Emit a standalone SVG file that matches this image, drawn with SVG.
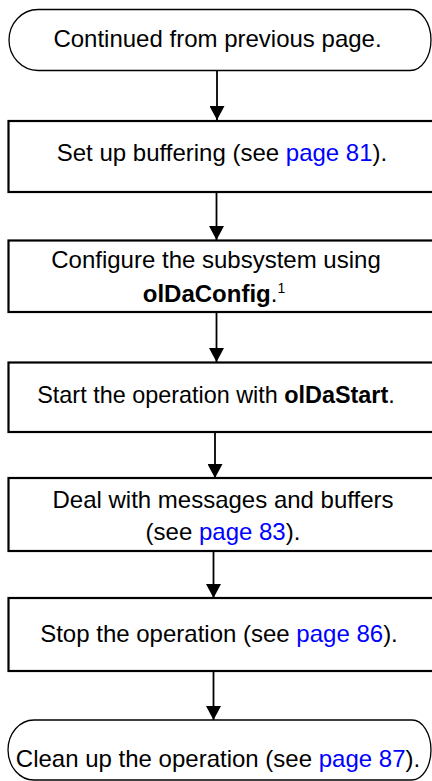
<svg xmlns="http://www.w3.org/2000/svg" width="432" height="781" viewBox="0 0 432 781">
<defs>
<style>
text{font-family:"Liberation Sans",Arial,Helvetica,sans-serif;font-size:24px;fill:#000;text-anchor:middle}
.b{font-weight:bold}
.lk{fill:#0000ff}
.sup{font-size:14px}
.term{fill:#fff;stroke:#000;stroke-width:1.3}
.box{fill:#fff;stroke:#000;stroke-width:2.2}
.conn{stroke:#000;stroke-width:1.8;fill:none}
</style>
<marker id="ah" viewBox="0 0 14 15" refX="14" refY="7.5" markerWidth="14" markerHeight="15" markerUnits="userSpaceOnUse" orient="auto"><path d="M0,0 L14,7.5 L0,15 Z" fill="#000"/></marker>
</defs>
<rect width="432" height="781" fill="#fff"/>
<g id="connectors">
<line class="conn" x1="217" y1="70.5" x2="217" y2="120" marker-end="url(#ah)"/>
<line class="conn" x1="216.5" y1="192" x2="216.5" y2="240" marker-end="url(#ah)"/>
<line class="conn" x1="216.5" y1="312" x2="216.5" y2="362" marker-end="url(#ah)"/>
<line class="conn" x1="215" y1="432" x2="215" y2="478" marker-end="url(#ah)"/>
<line class="conn" x1="213.5" y1="551" x2="213.5" y2="598" marker-end="url(#ah)"/>
<line class="conn" x1="213.5" y1="671" x2="213.5" y2="720" marker-end="url(#ah)"/>
</g>
<g id="n1">
<path class="term" d="M38,9.5 H410 A21,30.5 0 0 1 410,70.5 H38 A29,30.5 0 0 1 38,9.5 Z"/>
<text x="217.5" y="47">Continued from previous page.</text>
</g>
<g id="n2">
<rect class="box" x="8.5" y="121" width="432" height="71"/>
<text x="222" y="161">Set up buffering (see <tspan class="lk">page 81</tspan>).</text>
</g>
<g id="n3">
<rect class="box" x="8.5" y="240.5" width="432" height="71.5"/>
<text x="216" y="268">Configure the subsystem using</text>
<text x="214" y="302"><tspan class="b">olDaConfig</tspan>.<tspan class="sup" dy="-9">1</tspan></text>
</g>
<g id="n4">
<rect class="box" x="8.5" y="362.5" width="432" height="69.5"/>
<text x="216" y="403" style="font-size:23.4px">Start the operation with <tspan class="b">olDaStart</tspan>.</text>
</g>
<g id="n5">
<rect class="box" x="8.5" y="478" width="432" height="73"/>
<text x="223" y="508">Deal with messages and buffers</text>
<text x="223" y="540">(see <tspan class="lk">page 83</tspan>).</text>
</g>
<g id="n6">
<rect class="box" x="8.5" y="598" width="432" height="73"/>
<text x="219" y="642">Stop the operation (see <tspan class="lk">page 86</tspan>).</text>
</g>
<g id="n7">
<path class="term" d="M34,720 H412 A19,30 0 0 1 412,780 H34 A26,30 0 0 1 34,720 Z"/>
<text x="218" y="767">Clean up the operation (see <tspan class="lk">page 87</tspan>).</text>
</g>
</svg>
